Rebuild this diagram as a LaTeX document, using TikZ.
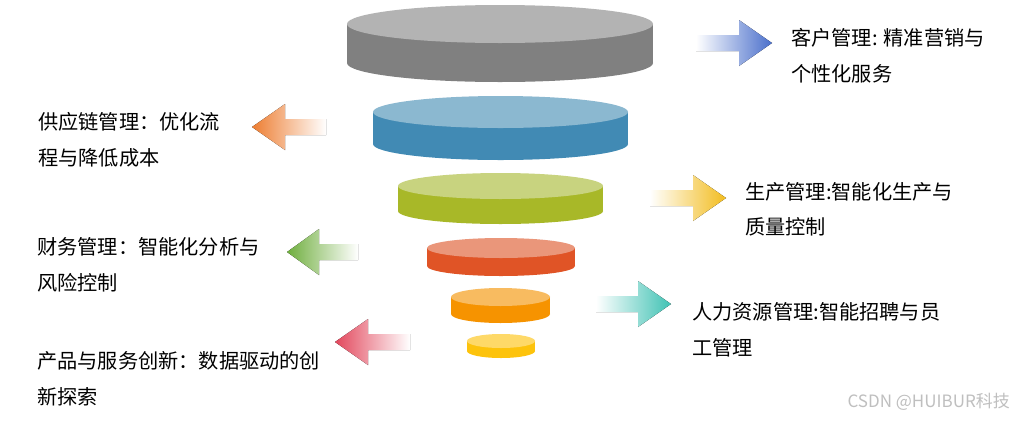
\documentclass[tikz,border=0pt]{standalone}
\usepackage{fontspec}
\setmainfont{Noto Sans CJK SC}
\definecolor{gtop}{HTML}{B3B3B3}\definecolor{gside}{HTML}{808080}
\definecolor{btop}{HTML}{8BB8D0}\definecolor{bside}{HTML}{418AB4}
\definecolor{ltop}{HTML}{C8D37F}\definecolor{lside}{HTML}{A8B828}
\definecolor{rtop}{HTML}{EA967A}\definecolor{rside}{HTML}{E05426}
\definecolor{otop}{HTML}{F8BB60}\definecolor{oside}{HTML}{F69300}
\definecolor{ytop}{HTML}{FED968}\definecolor{yside}{HTML}{FDC30C}
\definecolor{arblue}{HTML}{4A6FCB}
\definecolor{arorange}{HTML}{ED7D31}
\definecolor{aryellow}{HTML}{F2BC1E}
\definecolor{argreen}{HTML}{6FAE3E}
\definecolor{arteal}{HTML}{40C2B4}
\definecolor{arred}{HTML}{E2475C}
\newcommand\mycyl[6]{% cx rx ytop ybot ry name
  \fill[#6side] (#1,#4) ellipse [x radius=#2, y radius=#5];
  \fill[#6side] (#1-#2,#3) rectangle (#1+#2,#4);
  \fill[#6top] (#1,#3) ellipse [x radius=#2, y radius=#5];}
\newcommand\myrarrow[5]{% tail base tip yc color
  \fill[left color=white, right color=#5] (#1,#4-8) -- (#2,#4-8) -- (#2,#4-23) -- (#3,#4) -- (#2,#4+23) -- (#2,#4+8) -- (#1,#4+8) -- cycle;}
\newcommand\mylarrow[5]{% tail base tip yc color
  \fill[left color=#5, right color=white] (#3,#4) -- (#2,#4-23) -- (#2,#4-8) -- (#1,#4-8) -- (#1,#4+8) -- (#2,#4+8) -- (#2,#4+23) -- cycle;}
\begin{document}
\begin{tikzpicture}[x=1pt,y=-1pt,
  lbl/.style={anchor=west, inner sep=0pt, align=left, font=\fontsize{20.2}{35.5}\selectfont, text=black}]
\fill[white] (0,0) rectangle (1015,421);
\useasboundingbox (0,0) rectangle (1015,421);
% funnel
\mycyl{500}{153}{24}{63}{19}{g}
\mycyl{500.5}{127.5}{112}{144}{16}{b}
\mycyl{500.5}{102.5}{186}{211}{13}{l}
\mycyl{501}{74}{248}{266}{10}{r}
\mycyl{500.5}{49.5}{297}{314}{9}{o}
\mycyl{501}{34}{341}{351}{7}{y}
% arrows
\myrarrow{696}{739}{772}{43}{arblue}
\mylarrow{326}{285}{252}{127}{arorange}
\myrarrow{650}{693}{726}{198}{aryellow}
\mylarrow{358}{319}{287}{252}{argreen}
\myrarrow{596}{638}{671}{304}{arteal}
\mylarrow{410}{368}{335}{342}{arred}
% labels
\node[lbl] (t1) at (791,55.5) {客户管理: 精准营销与\\个性化服务};
\node[lbl] (t2) at (38,140) {供应链管理：优化流\\程与降低成本};
\node[lbl] (t3) at (745,209.5) {生产管理:智能化生产与\\质量控制};
\node[lbl] (t4) at (37,265) {财务管理：智能化分析与\\风险控制};
\node[lbl] (t5) at (692,330) {人力资源管理:智能招聘与员\\工管理};
\node[lbl] (t6) at (37,378.5) {产品与服务创新：数据驱动的创\\新探索};
\node[anchor=east, inner sep=0pt, font=\fontsize{17}{20}\selectfont, text=black!25] (wm) at (1010,402) {CSDN @HUIBUR科技};
\end{tikzpicture}
\end{document}
